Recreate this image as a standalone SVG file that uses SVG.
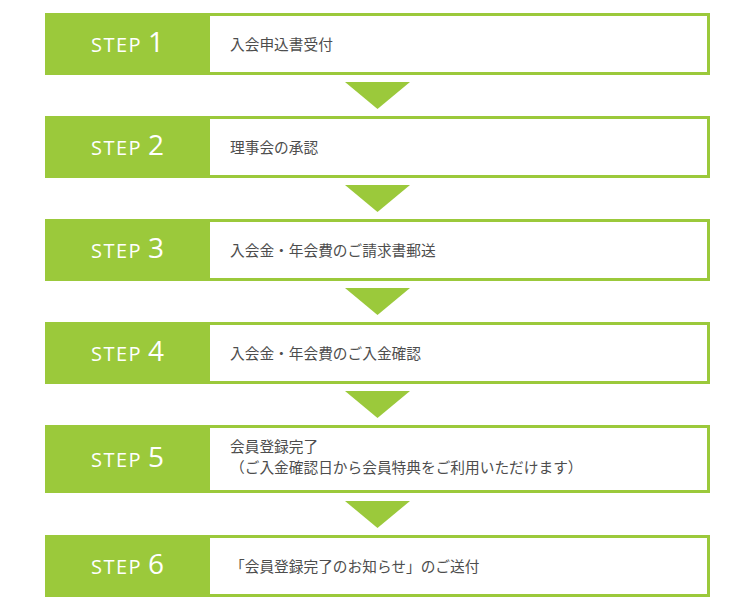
<svg xmlns="http://www.w3.org/2000/svg" width="754" height="610" viewBox="0 0 754 610">
<style>
.g{fill:#9BC93B}
.w{fill:#ffffff}
.st{font-family:"Open Sans","Noto Sans",sans-serif;fill:#ffffff;font-size:20px;letter-spacing:1.5px}
.num{font-family:"Open Sans","Noto Sans",sans-serif;fill:#ffffff;font-size:28px}
.jp{font-family:"Noto Sans CJK JP",sans-serif;fill:#4d4d4d;font-size:14.7px}
.arr{fill:#9BC93B}
</style>
<rect width="754" height="610" fill="#ffffff"/>
<g id="step1">
<rect class="g" x="45" y="13" width="665" height="62"/>
<rect class="w" x="210" y="16" width="497" height="56"/>
<text class="st" x="91" y="52">STEP</text>
<text class="num" x="148" y="52">1</text>
<text class="jp" x="230" y="49.5">入会申込書受付</text>
</g>
<g id="step2">
<rect class="g" x="45" y="116" width="665" height="62"/>
<rect class="w" x="210" y="119" width="497" height="56"/>
<text class="st" x="91" y="155">STEP</text>
<text class="num" x="148" y="155">2</text>
<text class="jp" x="230" y="152.5">理事会の承認</text>
</g>
<g id="step3">
<rect class="g" x="45" y="219" width="665" height="62"/>
<rect class="w" x="210" y="222" width="497" height="56"/>
<text class="st" x="91" y="258">STEP</text>
<text class="num" x="148" y="258">3</text>
<text class="jp" x="230" y="255.5">入会金・年会費のご請求書郵送</text>
</g>
<g id="step4">
<rect class="g" x="45" y="322" width="665" height="62"/>
<rect class="w" x="210" y="325" width="497" height="56"/>
<text class="st" x="91" y="361">STEP</text>
<text class="num" x="148" y="361">4</text>
<text class="jp" x="230" y="358.5">入会金・年会費のご入金確認</text>
</g>
<g id="step5">
<rect class="g" x="45" y="425" width="665" height="68"/>
<rect class="w" x="210" y="428" width="497" height="62"/>
<text class="st" x="91" y="467">STEP</text>
<text class="num" x="148" y="467">5</text>
<text class="jp" x="230" y="451.5">会員登録完了</text>
<text class="jp" x="230" y="473">（ご入金確認日から会員特典をご利用いただけます）</text>
</g>
<g id="step6">
<rect class="g" x="45" y="535" width="665" height="62"/>
<rect class="w" x="210" y="538" width="497" height="56"/>
<text class="st" x="91" y="574">STEP</text>
<text class="num" x="148" y="574">6</text>
<text class="jp" x="230" y="571.5">「会員登録完了のお知らせ」のご送付</text>
</g>
<g id="connectors">
<polygon class="arr" points="345,82 410,82 377.5,109"/>
<polygon class="arr" points="345,185 410,185 377.5,212"/>
<polygon class="arr" points="345,288 410,288 377.5,315"/>
<polygon class="arr" points="345,391 410,391 377.5,418"/>
<polygon class="arr" points="345,501 410,501 377.5,528"/>
</g>
</svg>
